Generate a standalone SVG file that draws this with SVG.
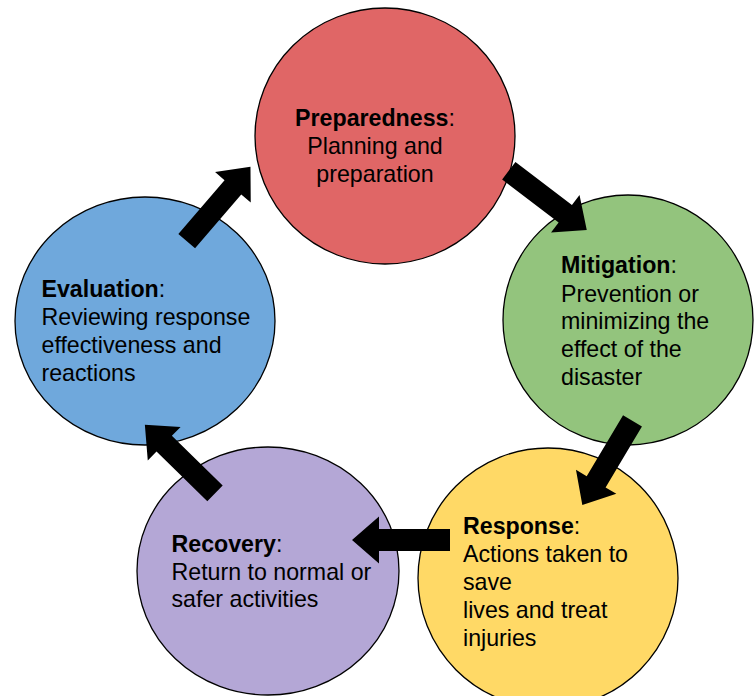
<svg xmlns="http://www.w3.org/2000/svg" width="754" height="696" viewBox="0 0 754 696">
<style>
.c{stroke:#000;stroke-width:1.3}
.t{font-family:"Liberation Sans",Arial,sans-serif;font-size:23.2px;fill:#000}
.b{font-weight:bold}
.m{text-anchor:middle}
</style>
<defs>
<path id="arr" d="M0,-11 L71,-11 L71,-23.5 L98,0 L71,23.5 L71,11 L0,11 Z" fill="#000"/>
</defs>
<rect width="754" height="696" fill="#fff"/>
<g id="preparedness">
<ellipse class="c" cx="385" cy="136" rx="130" ry="128" fill="#e06666"/>
<text class="t m" x="375" y="126"><tspan class="b">Preparedness</tspan>:</text>
<text class="t m" x="375" y="154">Planning and</text>
<text class="t m" x="375" y="181.5">preparation</text>
</g>
<g id="mitigation">
<ellipse class="c" cx="628" cy="320" rx="125" ry="125" fill="#93c47d"/>
<text class="t" x="561" y="273.3"><tspan class="b">Mitigation</tspan>:</text>
<text class="t" x="561" y="301.5">Prevention or</text>
<text class="t" x="561" y="329.3">minimizing the</text>
<text class="t" x="561" y="357.2">effect of the</text>
<text class="t" x="561" y="385">disaster</text>
</g>
<g id="response">
<ellipse class="c" cx="548" cy="578" rx="130" ry="130" fill="#ffd966"/>
<text class="t" x="463" y="534"><tspan class="b">Response</tspan>:</text>
<text class="t" x="463" y="562.3">Actions taken to</text>
<text class="t" x="463" y="590">save</text>
<text class="t" x="463" y="618.3">lives and treat</text>
<text class="t" x="463" y="646">injuries</text>
</g>
<g id="recovery">
<ellipse class="c" cx="268" cy="571" rx="131" ry="124" fill="#b4a7d6"/>
<text class="t" x="171.5" y="551.7"><tspan class="b">Recovery</tspan>:</text>
<text class="t" x="171.5" y="580">Return to normal or</text>
<text class="t" x="171.5" y="607.3">safer activities</text>
</g>
<g id="evaluation">
<ellipse class="c" cx="145" cy="321" rx="130" ry="124" fill="#6fa8dc"/>
<text class="t" x="41.5" y="296.7"><tspan class="b">Evaluation</tspan>:</text>
<text class="t" x="41.5" y="325">Reviewing response</text>
<text class="t" x="41.5" y="353.3">effectiveness and</text>
<text class="t" x="41.5" y="380.7">reactions</text>
</g>
<g id="connectors">
<use href="#arr" transform="translate(186.7,241.2) rotate(-49.4)"/>
<use href="#arr" transform="translate(508.8,170.7) rotate(37.3)"/>
<use href="#arr" transform="translate(632.5,420.8) rotate(120.8)"/>
<use href="#arr" transform="translate(450,540) rotate(180)"/>
<use href="#arr" transform="translate(215,493.3) rotate(-135.7)"/>
</g>
</svg>
